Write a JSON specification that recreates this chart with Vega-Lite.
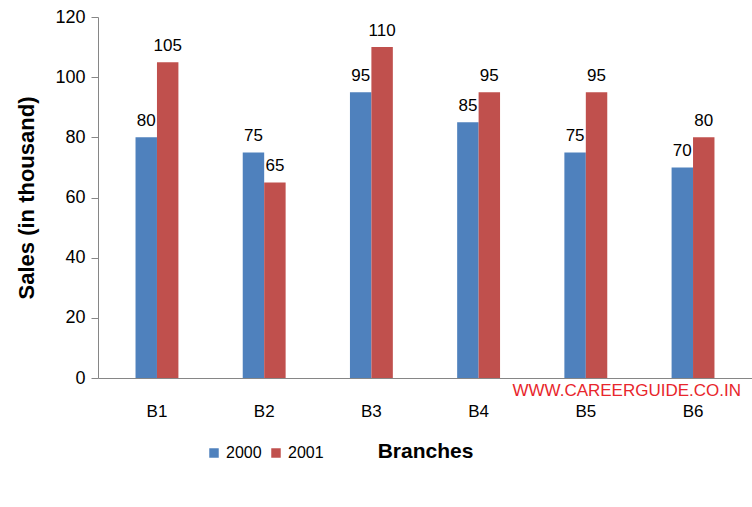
{
  "$schema": "https://vega.github.io/schema/vega-lite/v6.json",
  "width": 654,
  "height": 361,
  "autosize": {"type": "none"},
  "padding": {"left": 98, "top": 17, "right": 0, "bottom": 129},
  "background": "white",
  "config": {
    "font": "Liberation Sans",
    "view": {"stroke": null},
    "axis": {"labelFont": "Liberation Sans", "titleFont": "Liberation Sans", "domainColor": "#868686", "tickColor": "#868686", "labelColor": "black", "titleColor": "black", "grid": false}
  },
  "data": {
    "values": [
      {"branch": "B1", "year": "2000", "sales": 80},
      {"branch": "B1", "year": "2001", "sales": 105},
      {"branch": "B2", "year": "2000", "sales": 75},
      {"branch": "B2", "year": "2001", "sales": 65},
      {"branch": "B3", "year": "2000", "sales": 95},
      {"branch": "B3", "year": "2001", "sales": 110},
      {"branch": "B4", "year": "2000", "sales": 85},
      {"branch": "B4", "year": "2001", "sales": 95},
      {"branch": "B5", "year": "2000", "sales": 75},
      {"branch": "B5", "year": "2001", "sales": 95},
      {"branch": "B6", "year": "2000", "sales": 70},
      {"branch": "B6", "year": "2001", "sales": 80}
    ]
  },
  "encoding": {
    "x": {
      "field": "branch", "type": "nominal",
      "scale": {"paddingInner": 0.6, "paddingOuter": 0.35},
      "axis": {"title": "Branches", "titleFontSize": 21, "titleFontWeight": "bold", "titlePadding": 21, "labelFontSize": 17, "labelAngle": 0, "labelPadding": 25, "ticks": false}
    },
    "y": {
      "field": "sales", "type": "quantitative",
      "scale": {"domain": [0, 120]},
      "axis": {"title": "Sales (in thousand)", "titleFontSize": 22, "titleFontWeight": "bold", "titlePadding": 16, "labelFontSize": 18, "values": [0, 20, 40, 60, 80, 100, 120], "tickSize": 7, "labelPadding": 6}
    }
  },
  "layer": [
    {
      "mark": {"type": "bar"},
      "encoding": {
        "xOffset": {"field": "year", "type": "nominal"},
        "color": {
          "field": "year", "type": "nominal",
          "scale": {"range": ["#4F81BD", "#C0504D"]},
          "legend": {"title": null, "orient": "none", "direction": "horizontal", "legendX": 108, "legendY": 428, "symbolType": "square", "symbolSize": 90, "symbolStrokeWidth": 0, "labelFontSize": 16, "labelFont": "Liberation Sans", "columnPadding": 6, "labelOffset": 4}
        }
      }
    },
    {
      "mark": {"type": "text", "baseline": "bottom", "dy": -7, "fontSize": 17, "color": "black"},
      "encoding": {
        "xOffset": {"field": "year", "type": "nominal"},
        "text": {"field": "sales", "type": "quantitative"}
      }
    },
    {
      "data": {"values": [{"branch": "B6", "sales": 0, "note": "WWW.CAREERGUIDE.CO.IN"}]},
      "mark": {"type": "text", "align": "right", "baseline": "middle", "dx": 48, "dy": 13, "fontSize": 17, "color": "#E8262C"},
      "encoding": {
        "text": {"field": "note", "type": "nominal"}
      }
    }
  ]
}
